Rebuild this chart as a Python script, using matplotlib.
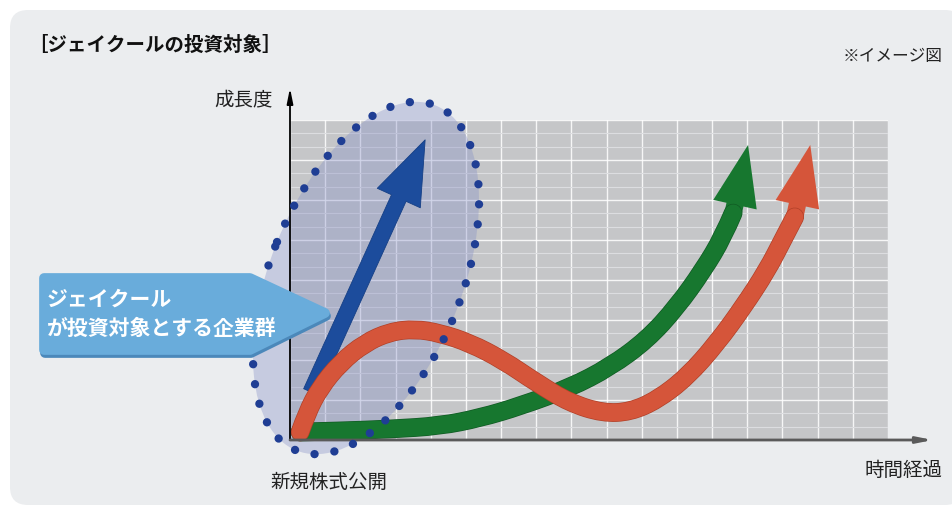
import numpy as np
import matplotlib.pyplot as plt
import matplotlib.patheffects as pe
from matplotlib.path import Path
from matplotlib.patches import Ellipse, FancyBboxPatch, FancyArrowPatch, Polygon, PathPatch

plt.rcParams['font.family'] = ['Noto Sans CJK JP', 'DejaVu Sans']

# growth curves, x = time (0-100), y = growth (0-100)
green_x = [1.7, 8.4, 16.7, 25.1, 31.8, 38.5, 46.8, 53.5, 59.7, 64.7, 69.1, 72.4, 74.1]
green_y = [2.5, 2.8, 3.4, 4.4, 6.9, 10.6, 16.3, 22.8, 31.3, 41.6, 53.1, 63.4, 70.9]
green_tip = (76.6, 92.2)

red_x = [1.7, 2.8, 5.0, 8.4, 12.5, 16.7, 20.9, 25.1, 30.1, 35.6, 41.3, 46.8,
         52.3, 56.9, 61.4, 66.4, 71.4, 75.8, 79.8, 82.4, 84.4]
red_y = [2.5, 8.4, 16.3, 24.1, 30.3, 33.8, 34.7, 33.4, 30.3, 25.0, 17.8, 11.6,
         8.4, 8.8, 12.5, 19.7, 30.3, 41.6, 53.1, 62.5, 69.7]
red_tip = (87.0, 92.2)

blue_start = (3.5, 15.0)
blue_tip = (22.6, 93.8)

title = '［ジェイクールの投資対象］'
note = '※イメージ図'
y_label = '成長度'
x_label = '時間経過'
origin_label = '新規株式公開'
callout_lines = ['ジェイクール', 'が投資対象とする企業群']


def smooth_path(xs, ys):
    # quadratic bezier through the midpoints, the read points act as controls
    pts = np.column_stack([xs, ys])
    verts = [pts[0]]
    codes = [Path.MOVETO]
    for i in range(1, len(pts) - 1):
        end = pts[i + 1] if i == len(pts) - 2 else (pts[i] + pts[i + 1]) / 2
        verts += [pts[i], end]
        codes += [Path.CURVE3, Path.CURVE3]
    return Path(verts, codes)


W, H = 953, 512
fig = plt.figure(figsize=(W / 100, H / 100), dpi=100)
fig.patch.set_facecolor('white')

# background panel, pixel coordinates
bg = fig.add_axes([0, 0, 1, 1])
bg.set_xlim(0, W)
bg.set_ylim(H, 0)
bg.axis('off')
bg.add_patch(FancyBboxPatch((10, 10), W, H - 17,
                            boxstyle='round,pad=0,rounding_size=18',
                            fc='#ebedef', ec='none'))

bg.text(28, 45, title, fontsize=14, fontweight='bold', color='#111111',
        ha='left', va='center')
bg.text(943, 57, note, fontsize=12, color='#222222', ha='right', va='center')
bg.text(273, 100, y_label, fontsize=14, color='#222222', ha='right', va='center')
bg.text(943, 470, x_label, fontsize=14, color='#222222', ha='right', va='center')
bg.text(270, 482, origin_label, fontsize=14, color='#222222', ha='left', va='center')

# chart area
ax = fig.add_axes([290 / W, 1 - 440 / H, 598 / W, 320 / H])
ax.set_xlim(0, 100)
ax.set_ylim(0, 100)
ax.set_facecolor('#c5c6c8')
for s in ax.spines.values():
    s.set_visible(False)
ax.set_xticks(np.linspace(0, 100, 18))
ax.set_yticks(np.linspace(0, 100, 9))
ax.set_yticks(np.linspace(0, 100, 25), minor=True)
ax.tick_params(which='both', length=0, labelbottom=False, labelleft=False)
ax.grid(which='major', color='white', lw=1.0, alpha=0.85)
ax.grid(which='minor', axis='y', color='#dcdde0', lw=0.8)
ax.set_axisbelow(True)

# axes arrows
ax.annotate('', xy=(0, 1.1), xytext=(0, 0), xycoords='axes fraction',
            arrowprops=dict(arrowstyle='-|>,head_length=0.9,head_width=0.18',
                            color='black', lw=1.3, shrinkA=0, shrinkB=0),
            annotation_clip=False, zorder=4)
ax.annotate('', xy=(1.075, 0), xytext=(0, 0), xycoords='axes fraction',
            arrowprops=dict(arrowstyle='-|>,head_length=0.9,head_width=0.18',
                            color='#5a5a5a', lw=2, shrinkA=0, shrinkB=0),
            annotation_clip=False, zorder=4)

# highlighted group
ax.add_patch(Ellipse((366, 278), 372, 192, angle=-68, transform=bg.transData,
                     fc=(0.52, 0.56, 0.78, 0.36), ec='none', clip_on=False, zorder=1))
ax.add_patch(Ellipse((366, 278), 372, 192, angle=-68, transform=bg.transData,
                     fc='none', ec='#1f3e94', lw=6, ls=(0, (0.01, 2.4)),
                     capstyle='round', clip_on=False, zorder=5))

# curves
ax.add_patch(FancyArrowPatch(blue_start, blue_tip,
                             arrowstyle='simple,head_length=46,head_width=34,tail_width=11.5',
                             mutation_scale=1, fc='#1c4c9c', ec='#153f85', lw=0.6,
                             shrinkA=0, shrinkB=0, clip_on=False, zorder=2.5))

for xs, ys, tip, color, edge, z in [
        (green_x, green_y, green_tip, '#17772f', '#105a23', 3),
        (red_x, red_y, red_tip, '#d5553a', '#b04028', 3.5)]:
    ax.add_patch(PathPatch(smooth_path(xs, ys), fc='none', ec=color, lw=12.5,
                           capstyle='round', joinstyle='round', clip_on=False,
                           zorder=z,
                           path_effects=[pe.Stroke(linewidth=13.5, foreground=edge),
                                         pe.Normal()]))
    ax.add_patch(FancyArrowPatch((xs[-1], ys[-1]), tip,
                                 arrowstyle='simple,head_length=44,head_width=32,tail_width=12.5',
                                 mutation_scale=1, fc=color, ec='none',
                                 shrinkA=0, shrinkB=0, clip_on=False, zorder=z - 0.1))

# callout
shape = [(44, 278), (250, 278), (325, 313), (250, 350), (44, 350)]
ax.add_patch(Polygon([(x + 1, y + 3) for x, y in shape], closed=True,
                     transform=bg.transData, fc='#4b88ba', ec='#4b88ba', lw=7,
                     joinstyle='round', clip_on=False, zorder=5.8))
ax.add_patch(Polygon(shape, closed=True, transform=bg.transData,
                     fc='#69acdb', ec='#69acdb', lw=7, joinstyle='round',
                     clip_on=False, zorder=6))
for i, line in enumerate(callout_lines):
    ax.text(47, 299 + i * 29, line, transform=bg.transData, color='white',
            fontsize=15, fontweight='bold', ha='left', va='center', zorder=7)

fig.savefig('out.png', dpi=100, facecolor=fig.get_facecolor())
